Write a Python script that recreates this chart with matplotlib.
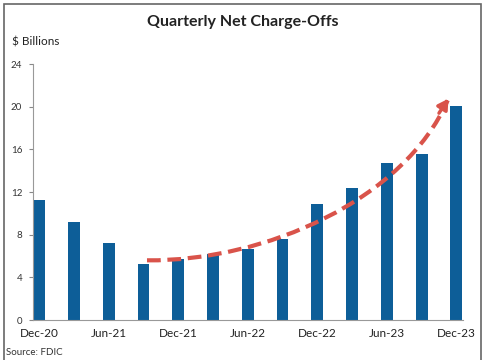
import matplotlib
matplotlib.use("Agg")
import matplotlib.pyplot as plt
from matplotlib.path import Path
from matplotlib.patches import PathPatch, Rectangle

quarters = ["Dec-20", "Mar-21", "Jun-21", "Sep-21", "Dec-21", "Mar-22", "Jun-22",
            "Sep-22", "Dec-22", "Mar-23", "Jun-23", "Sep-23", "Dec-23"]
net_charge_offs = [11.25, 9.15, 7.25, 5.22, 5.75, 6.2, 6.65, 7.56, 10.85, 12.37, 14.7, 15.56, 20.1]
tick_labels = ["Dec-20", "Jun-21", "Dec-21", "Jun-22", "Dec-22", "Jun-23", "Dec-23"]
y_ticks = [0, 4, 8, 12, 16, 20, 24]

# trend arrow (bezier control points in data coords: quarter index, $bn)
trend_x = [3.1, 6.5, 10.5, 11.75]
trend_y = [5.6, 5.5, 11.3, 20.6]

plt.rcParams['font.family'] = ['Lato', 'DejaVu Sans']

fig = plt.figure(figsize=(4.85, 3.6), dpi=100)
ax = fig.add_axes([0.0687, 0.111, 0.9546 - 0.0687, 0.822 - 0.111])

x = list(range(len(quarters)))
ax.bar(x, net_charge_offs, width=0.34, color="#0d5e98", zorder=2)

ax.set_ylim(0, 24)
ax.set_xlim(-0.17, 12.19)
ax.set_yticks(y_ticks)
ax.set_yticklabels([str(v) for v in y_ticks], fontsize=7, color="#333333")
ax.set_xticks([i for i, q in enumerate(quarters) if q in tick_labels])
ax.set_xticklabels(tick_labels, fontsize=8.5, color="#222222")
ax.tick_params(axis='x', length=0, pad=6)
ax.tick_params(axis='y', length=3, width=0.8, color="#888888", pad=5)
for s in ["top", "right"]:
    ax.spines[s].set_visible(False)
ax.spines["left"].set_color("#999999")
ax.spines["bottom"].set_color("#999999")
ax.spines["left"].set_linewidth(0.8)
ax.spines["bottom"].set_linewidth(0.8)

# dashed trend curve
verts = list(zip(trend_x, trend_y))
path = Path(verts, [Path.MOVETO, Path.CURVE4, Path.CURVE4, Path.CURVE4])
ax.add_patch(PathPatch(path, fill=False, edgecolor="#d9534a", linewidth=3,
                       linestyle=(0, (3.3, 1.6)), zorder=3, capstyle='butt'))
ax.annotate("", xy=(trend_x[3] + 0.02, trend_y[3] + 0.15), xytext=(trend_x[3] - 0.25, trend_y[3] - 1.2),
            arrowprops=dict(arrowstyle="-|>,head_length=0.6,head_width=0.35", color="#d9534a",
                            lw=2.5, shrinkA=0, shrinkB=0), zorder=4)

fig.text(0.5, 0.94, "Quarterly Net Charge-Offs", ha="center", va="center",
         fontsize=11.5, fontweight="bold", color="#222222")
fig.text(0.024, 0.882, "$ Billions", ha="left", va="center", fontsize=8.5, color="#222222")
fig.text(0.012, 0.022, "Source: FDIC", ha="left", va="center", fontsize=7, color="#333333")

fig.patches.append(Rectangle((0.008, -0.05), 0.984, 1.038, transform=fig.transFigure,
                             fill=False, edgecolor="#666666", linewidth=1.2))

fig.savefig("out.png", dpi=100)
